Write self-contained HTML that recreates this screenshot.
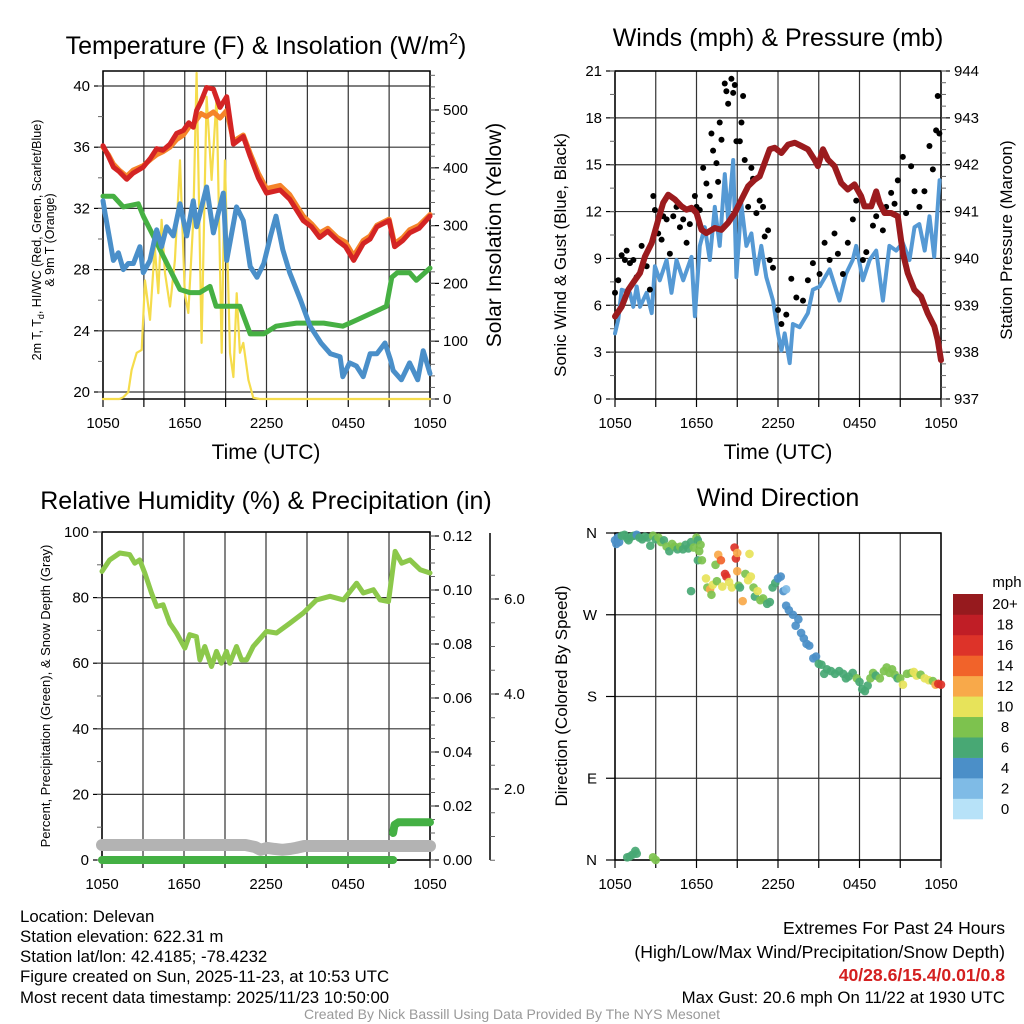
<!DOCTYPE html>
<html><head><meta charset="utf-8"><style>
html,body{margin:0;padding:0;background:#fff}
svg{display:block;font-family:"Liberation Sans",Arial,sans-serif}
</style></head><body>
<svg id="s" width="1024" height="1024" viewBox="0 0 1024 1024" xmlns="http://www.w3.org/2000/svg">
<text x="266" y="54" font-size="25" text-anchor="middle">Temperature (F) &amp; Insolation (W/m<tspan font-size="16" dy="-10">2</tspan><tspan dy="10">)</tspan></text>
<text x="778" y="46" font-size="25" text-anchor="middle">Winds (mph) &amp; Pressure (mb)</text>
<text x="266" y="509" font-size="25" text-anchor="middle">Relative Humidity (%) &amp; Precipitation (in)</text>
<text x="778" y="506" font-size="25" text-anchor="middle">Wind Direction</text>

<text transform="translate(41,240) rotate(-90)" font-size="12.5" text-anchor="middle">2m T, T<tspan font-size="9" dy="3">d</tspan><tspan dy="-3">, HI/WC (Red, Green, Scarlet/Blue)</tspan></text>
<text transform="translate(54,240) rotate(-90)" font-size="12.5" text-anchor="middle">&amp; 9m T (Orange)</text>
<text transform="translate(501,235) rotate(-90)" font-size="21" text-anchor="middle">Solar Insolation (Yellow)</text>
<text x="266" y="459" font-size="21" text-anchor="middle">Time (UTC)</text>
<text transform="translate(566,255) rotate(-90)" font-size="17" text-anchor="middle">Sonic Wind &amp; Gust (Blue, Black)</text>
<text transform="translate(1012,240) rotate(-90)" font-size="17" text-anchor="middle">Station Pressure (Maroon)</text>
<text x="778" y="459" font-size="21" text-anchor="middle">Time (UTC)</text>
<text transform="translate(50,696) rotate(-90)" font-size="13" text-anchor="middle">Percent, Precipitation (Green), &amp; Snow Depth (Gray)</text>
<text transform="translate(567,696) rotate(-90)" font-size="17" text-anchor="middle">Direction (Colored By Speed)</text>

<g font-size="16.8">
<text x="20" y="922">Location: Delevan</text>
<text x="20" y="942">Station elevation: 622.31 m</text>
<text x="20" y="962">Station lat/lon: 42.4185; -78.4232</text>
<text x="20" y="982">Figure created on Sun, 2025-11-23, at 10:53 UTC</text>
<text x="20" y="1003">Most recent data timestamp: 2025/11/23 10:50:00</text>
<text x="1005" y="934" font-size="17.6" text-anchor="end">Extremes For Past 24 Hours</text>
<text x="1005" y="958" font-size="17.6" text-anchor="end">(High/Low/Max Wind/Precipitation/Snow Depth)</text>
<text x="1005" y="981" font-size="17.6" text-anchor="end" fill="#d42020" font-weight="bold">40/28.6/15.4/0.01/0.8</text>
<text x="1005" y="1003" text-anchor="end">Max Gust: 20.6 mph On 11/22 at 1930 UTC</text>
</g>
<text x="512" y="1019" font-size="14" fill="#999" text-anchor="middle">Created By Nick Bassill Using Data Provided By The NYS Mesonet</text>
</svg>
<script>
// ---------- Temperature panel data (hours since 1050 UTC) ----------
const tRed=[0,0.4,0.76,1.2,1.74,2.2,2.96,3.5,3.94,4.4,4.92,5.4,5.9,6.3,6.63,6.87,7.2,7.6,8.1,8.59,9.08,9.57,10.3,10.8,11.4,12.0,13.0,13.7,14.7,15.3,15.9,16.5,17.2,17.8,18.4,19.1,19.6,20.1,21.0,21.4,22.0,22.5,23.2,24.0];
const vRed=[36.1,35.4,34.7,34.4,33.9,34.3,34.7,35.3,35.9,35.8,36.2,36.9,37.1,37.6,37.3,38.4,39.0,39.9,39.8,38.6,39.3,36.2,36.7,35.4,34.0,33.0,33.2,32.6,31.2,30.8,30.1,30.5,29.9,29.5,28.6,29.7,30.0,30.8,31.2,29.5,29.9,30.4,30.7,31.5];
const vOrange=[36.0,35.5,34.9,34.5,34.1,34.5,34.8,35.2,35.5,35.7,36.0,36.5,36.8,37.3,37.5,37.8,38.2,38.0,38.3,37.9,38.4,36.4,36.8,35.6,34.3,33.3,33.5,32.9,31.5,31.0,30.4,30.7,30.1,29.8,28.9,29.9,30.2,30.9,31.3,29.7,30.1,30.6,30.9,31.6];
const tDew=[0,0.76,1.49,2.59,2.96,3.69,4.3,4.92,5.65,6.38,7.1,7.85,8.3,9.3,10.05,10.8,11.8,12.7,14.2,16.2,17.6,18.6,20.8,21.2,21.6,22.5,23.0,24.0];
const vDew=[32.8,32.8,32.1,32.3,31.5,30.2,29.1,28.0,26.7,26.5,26.5,26.9,25.6,25.6,25.6,23.8,23.8,24.3,24.5,24.5,24.3,24.7,25.6,27.5,27.8,27.8,27.3,28.1];
const tWC=[0,0.15,0.51,0.76,1.13,1.49,1.86,2.23,2.71,2.96,3.45,3.94,4.3,4.67,5.16,5.65,6.14,6.63,6.87,7.6,8.1,8.83,9.08,9.8,10.3,10.8,11.3,11.8,12.3,12.7,13.2,13.7,14.5,15.2,16.0,16.7,17.4,17.6,18.1,18.6,19.1,19.6,20.1,20.7,21.1,21.3,21.9,22.5,23.1,23.5,24.0];
const vWC=[32.5,31.7,29.9,28.6,29.1,28.0,28.4,28.4,29.5,27.8,28.6,30.6,29.5,30.8,30.2,32.3,30.2,32.5,30.8,33.4,30.4,33.0,28.6,32.1,31.2,28.2,27.5,28.4,30.2,31.5,29.3,27.8,26.0,24.3,23.2,22.5,22.3,21.0,21.9,21.7,21.0,22.5,22.5,23.2,22.1,21.4,20.8,21.9,20.8,22.7,21.2];
const tSun=[0,1.2,1.49,1.86,2.1,2.47,2.84,3.08,3.45,3.8,4.06,4.3,4.55,4.92,5.28,5.65,6.0,6.26,6.63,6.87,7.24,7.6,7.97,8.34,8.71,8.95,9.32,9.57,9.81,10.05,10.3,10.67,11.03,11.5,24];
const vSun=[0,0,3,12,50,80,85,205,137,263,183,310,218,160,240,413,183,149,310,564,97,523,379,523,80,413,80,38,183,80,97,33,2,0,0];
const tempTicks=[20,24,28,32,36,40];
const sunTicks=[0,100,200,300,400,500];
const timeLabels=["1050","1650","2250","0450","1050"];
// ---------- Winds panel data ----------
const tWind=[0,0.24,0.49,1.1,1.35,1.6,1.84,2.33,2.7,2.94,3.3,3.8,4.16,4.53,5.02,5.63,5.88,6.24,6.61,6.98,7.35,7.71,8.08,8.33,8.7,8.94,9.3,9.67,10.04,10.41,10.77,11.14,11.63,12.0,12.25,12.49,12.86,13.1,13.59,14.2,14.57,15.06,15.8,16.53,17.0,17.5,17.76,18.25,18.74,19.23,19.72,20.2,20.7,21.19,21.68,22.05,22.4,22.8,23.15,23.5,23.9];
const vWind=[4.2,5.1,7.0,6.8,5.9,7.2,5.9,6.8,5.5,8.5,7.6,8.9,6.8,8.9,7.6,9.1,5.3,9.8,11.0,8.9,12.3,9.8,14.4,11.5,15.3,7.8,12.5,9.8,10.6,8.0,9.8,7.8,6.3,4.2,3.1,4.2,2.3,4.8,4.6,5.5,7.0,7.2,8.3,6.3,8.0,8.9,9.8,7.6,8.9,9.5,6.3,9.8,9.5,10.0,8.9,11.0,11.2,9.5,11.7,9.1,14.0];
const tGust=[0,0.24,0.49,0.73,0.86,1.1,1.35,1.59,1.96,2.33,2.57,2.82,2.94,3.18,3.43,3.55,3.8,4.04,4.29,4.53,4.78,5.02,5.27,5.51,5.88,6.0,6.24,6.49,6.73,6.98,7.1,7.22,7.47,7.59,7.71,7.84,8.08,8.2,8.33,8.57,8.7,8.82,8.94,9.19,9.31,9.43,9.55,9.8,10.04,10.16,10.41,10.65,10.9,11.02,11.27,11.39,11.63,12.0,12.25,12.61,12.98,13.35,13.84,14.2,14.57,15.06,15.43,15.8,16.16,16.41,16.78,17.14,17.51,17.76,18.25,18.5,18.99,19.23,19.72,19.96,20.33,20.58,20.82,21.19,21.43,21.8,22.05,22.41,22.78,23.15,23.4,23.64,23.76,23.88];
const vGust=[6.8,7.6,9.2,8.9,9.5,8.7,8.9,7.8,9.8,8.5,7.0,13.0,12.1,10.6,10.2,11.7,11.5,9.3,11.7,12.3,11.0,11.5,10.0,11.2,13.0,12.3,12.1,14.8,13.8,13.0,17.0,15.9,15.1,13.9,17.7,16.6,20.2,19.7,18.9,20.5,19.6,20.1,16.5,16.5,17.7,19.4,15.3,12.3,14.8,14.1,11.9,12.7,12.3,10.4,10.8,8.9,8.4,5.7,4.8,5.4,7.7,6.5,6.3,7.6,8.7,8.0,10.0,8.9,10.6,9.3,8.0,10.0,11.5,12.7,8.9,9.4,11.1,11.7,10.8,12.3,13.2,12.5,14.0,15.5,11.9,14.9,13.3,12.3,13.3,16.2,14.7,17.2,19.4,17.0];
const tPres=[0,0.49,0.98,1.47,1.84,2.2,2.7,3.19,3.55,3.92,4.41,4.9,5.27,5.63,6.0,6.37,6.73,7.35,7.84,8.33,8.82,9.31,9.8,10.29,10.65,11.02,11.39,11.76,12.25,12.74,13.23,13.72,14.2,14.69,14.94,15.31,15.67,16.16,16.65,17.14,17.63,18.12,18.37,18.86,19.23,19.47,19.84,20.33,20.82,21.19,21.55,22.04,22.53,23.02,23.51,23.76,24.0];
const vPres=[938.76,938.97,939.33,939.54,939.69,940.04,940.33,940.83,941.19,941.36,941.26,941.11,941.04,941.08,940.97,940.61,940.54,940.65,940.61,940.76,940.97,941.26,941.54,941.68,941.75,942.04,942.33,942.36,942.25,942.43,942.47,942.40,942.33,942.11,941.97,942.33,942.11,941.97,941.61,941.47,941.58,941.33,941.11,941.11,941.43,941.19,940.97,940.97,940.90,940.12,939.69,939.33,939.19,938.83,938.55,938.26,937.83];
const windTicks=[0,3,6,9,12,15,18,21];
const presTicks=[937,938,939,940,941,942,943,944];
// ---------- Humidity panel data ----------
const tRH=[0,0.56,1.3,2.03,2.4,2.76,3.13,3.62,4.0,4.47,4.96,5.45,6.06,6.42,6.91,7.16,7.52,8.01,8.38,8.74,9.11,9.35,9.84,10.21,10.58,11.06,12.04,12.77,13.75,14.73,15.7,16.68,17.66,18.63,19.12,19.86,20.35,20.96,21.45,21.93,22.54,23.28,24.0];
const vRH=[88.0,91.5,93.6,93.1,90.5,91.5,87.5,81.4,77.3,77.8,72.2,69.2,64.6,68.7,68.1,61.0,65.1,59.0,63.6,60.0,63.6,60.0,65.1,61.0,61.0,65.1,69.7,69.2,72.2,75.3,79.3,80.4,79.3,84.4,81.4,82.4,79.3,78.8,94.1,90.5,91.5,88.5,87.5];
const tPrecipA=[0,21.3];
const vPrecipA=[0,0];
const tPrecipB=[21.3,21.4,21.7,24];
const vPrecipB=[0.01,0.013,0.014,0.014];
const tSnow=[0,9.5,10.5,11.2,11.6,12.1,12.6,13.2,13.8,14.2,14.8,24];
const vSnow=[0.82,0.82,0.82,0.78,0.72,0.76,0.74,0.72,0.74,0.76,0.8,0.8];
const rhTicks=[0,20,40,60,80,100];
const precipTicks=["0.00","0.02","0.04","0.06","0.08","0.10","0.12"];
const snowTicks=[2,4,6];
// ---------- Wind direction data ----------
const tDir=[0.0,0.1,0.2,0.3,0.5,0.7,0.9,1.0,1.2,1.4,1.6,1.8,2.0,2.2,2.4,2.6,2.8,3.0,3.2,3.4,3.6,3.8,4.0,4.2,4.4,4.6,4.8,5.0,5.2,5.4,5.6,5.8,6.0,6.1,6.2,6.3,6.1,5.6,6.4,6.7,6.8,7.0,7.1,7.2,7.4,7.5,7.6,7.8,7.9,8.1,8.2,8.4,8.6,8.8,8.9,9.0,9.0,9.1,9.2,9.4,9.6,9.8,9.9,10.0,10.2,10.3,10.5,10.7,10.9,11.2,11.4,11.6,11.8,12.0,12.2,12.4,12.6,12.6,12.8,13.1,13.3,13.5,13.7,13.9,14.1,14.3,14.6,14.8,15.0,15.2,15.4,15.6,15.9,16.2,16.5,16.8,17.0,17.2,17.5,17.8,18.0,18.2,18.4,18.6,18.8,19.0,19.2,19.5,19.8,20.0,20.2,20.4,20.6,20.8,21.0,21.2,21.5,21.8,22.0,22.2,22.5,22.8,23.1,23.4,23.6,23.8,24.0,0.9,1.1,1.3,1.5,1.6,2.8,3.0];
const vDir=[352,348,355,350,357,358,354,352,356,357,358,355,353,356,355,346,357,353,355,350,352,345,340,348,345,342,345,342,347,343,350,344,355,352,340,347,330,296,330,310,300,298,292,303,325,307,336,330,301,315,312,306,300,344,332,338,318,302,300,285,315,308,337,312,300,290,296,286,288,282,284,300,305,310,312,296,298,280,275,270,258,265,250,244,238,236,222,224,216,215,205,210,208,205,208,205,200,202,206,200,196,188,186,192,200,206,203,200,208,212,206,210,204,200,200,193,205,206,207,203,204,200,198,197,193,194,193,3,4,6,10,7,3,0];
const vSpd=[4,4,4,5,6,6,6,7,6,6,5,6,6,6,6,6,8,7,8,8,7,8,6,8,8,7,8,7,6,7,6,8,8,7,8,9,6,6,8,10,9,12,9,10,9,8,13,14,10,16,16,10,11,16,16,13,12,8,7,12,9,10,10,10,8,6,10,9,8,6,6,7,6,4,4,4,2,4,4,4,4,4,4,4,4,4,4,4,6,6,6,6,7,6,6,7,6,7,7,8,7,6,6,7,8,9,7,8,8,8,9,9,9,7,9,10,8,9,10,10,9,10,10,9,12,16,16,6,6,6,6,6,8,8];
const dirLabels=["N","E","S","W","N"];
const cbColors=["#b7e2f8","#7fbbe6","#4b8fc8","#48a874","#7dc24e","#e7e35a","#f8a94a","#f1632a","#dd3329","#c01e26","#961a1e"];
const cbLabels=["0","2","4","6","8","10","12","14","16","18","20+"];

const S=document.getElementById('s');
const NS='http://www.w3.org/2000/svg';
function mk(tag,attrs,parent){const e=document.createElementNS(NS,tag);for(const k in attrs)e.setAttribute(k,attrs[k]);(parent||S).appendChild(e);return e;}
function lin(d0,d1,r0,r1){return v=>r0+(v-d0)/(d1-d0)*(r1-r0);}
function line(ts,vs,sx,sy,stroke,w,name){
  const p=ts.map((t,i)=>sx(t).toFixed(1)+','+sy(vs[i]).toFixed(1)).join(' ');
  const el=mk('polyline',{points:p,fill:'none',stroke:stroke,'stroke-width':w,'stroke-linejoin':'round','stroke-linecap':'round'});
  
  
  return el;
}
function frame(x0,x1,y0,y1,name){
  const g=mk('g',{});
  
  
  return g;
}
function grid(g,x0,x1,y0,y1,hs){
  const sx=lin(0,24,x0,x1);
  for(let h=0;h<=24;h+=3){const x=sx(h);mk('line',{x1:x,x2:x,y1:y0,y2:y1,stroke:'#333','stroke-width':1.2},g);mk('line',{x1:x,x2:x,y1:y1,y2:y1+8,stroke:'#000','stroke-width':1.2},g);}
  hs.forEach(y=>mk('line',{x1:x0,x2:x1,y1:y,y2:y,stroke:'#333','stroke-width':1.2},g));
  mk('rect',{x:x0,y:y0,width:x1-x0,height:y1-y0,fill:'none',stroke:'#000','stroke-width':1.5},g);
  timeLabels.forEach((l,i)=>{const t=mk('text',{x:sx(i*6),y:y1+29,'font-size':15,'text-anchor':'middle'},g);t.textContent=l;
    
    });
  return sx;
}
function yticks(g,ticks,sy,x,side,fmt,minorStep,lo,hi,labOff){
  const dir=side==='L'?-1:1;
  ticks.forEach(v=>{const y=sy(v);mk('line',{x1:x,x2:x+dir*9,y1:y,y2:y,stroke:'#000','stroke-width':1.2},g);
    const t=mk('text',{x:x+dir*(labOff||13),y:y+5,'font-size':15,'text-anchor':side==='L'?'end':'start'},g);t.textContent=fmt(v);
    
    });
  if(minorStep){for(let v=lo;v<=hi+1e-9;v+=minorStep){const y=sy(v);mk('line',{x1:x,x2:x+dir*5,y1:y,y2:y,stroke:'#666','stroke-width':1},g);}}
}

// ===== Panel 1: Temperature =====
{const x0=103,x1=430,y0=71,y1=399;
 const g=frame(x0,x1,y0,y1,'temperature-panel');
 const sy=lin(20,40,392,86), sy2=lin(0,500,399,110);
 const sx=grid(g,x0,x1,y0,y1,tempTicks.map(sy));
 yticks(g,tempTicks,sy,x0,'L',v=>v,2,20,40);
 yticks(g,sunTicks,sy2,x1,'R',v=>v,20,0,560);
 line(tSun,vSun,sx,sy2,'#f5dc4c',2.2,'solar-insolation-line');
 line(tDew,vDew,sx,sy,'#46b043',5,'dewpoint-line');
 line(tWC,vWC,sx,sy,'#4a8fc9',5,'wind-chill-line');
 line(tRed,vOrange,sx,sy,'#f5842a',5,'temp-9m-line');
 line(tRed,vRed,sx,sy,'#d42424',5,'temp-2m-line');
}
// ===== Panel 2: Winds =====
{const x0=615,x1=941,y0=71,y1=399;
 const g=frame(x0,x1,y0,y1,'winds-panel');
 const sy=lin(0,21,399,71), sy2=lin(937,944,399,71);
 const sx=grid(g,x0,x1,y0,y1,windTicks.map(sy));
 yticks(g,windTicks,sy,x0,'L',v=>v,1.5,0,21);
 yticks(g,presTicks,sy2,x1,'R',v=>v,0.25,937,944);
 line(tWind,vWind,sx,sy,'#5599d4',4,'wind-speed-line');
 tGust.forEach((t,i)=>{const c=mk('circle',{cx:sx(t),cy:sy(vGust[i]),r:3,fill:'#000'});
   
   });
 line(tPres,vPres,sx,sy2,'#9b1b1e',6,'pressure-line');
}
// ===== Panel 3: Humidity =====
{const x0=102,x1=430,y0=532,y1=860;
 const g=frame(x0,x1,y0,y1,'humidity-panel');
 const sy=lin(0,100,860,532), sy2=lin(0,0.12,860,536), sy3=lin(0,2,884,789);
 const sx=grid(g,x0,x1,y0,y1,rhTicks.map(sy));
 yticks(g,rhTicks,sy,x0,'L',v=>v,10,0,100);
 yticks(g,precipTicks.map(Number),sy2,x1,'R',v=>v.toFixed(2),0.005,0,0.12);
 mk('line',{x1:490,x2:490,y1:533,y2:860,stroke:'#000','stroke-width':1.5},g);
 yticks(g,snowTicks,sy3,490,'R',v=>v.toFixed(1),0.5,0.5,6.5,14);
 line(tSnow,vSnow,sx,sy3,'#b3b3b3',12,'snow-depth-line');
 line(tPrecipA,vPrecipA,sx,sy2,'#44b044',8,'precip-line-zero');
 line(tPrecipB,vPrecipB,sx,sy2,'#44b044',8,'precip-line');
 line(tRH,vRH,sx,sy,'#8cc84b',5,'relative-humidity-line');
}
// ===== Panel 4: Wind direction =====
{const x0=615,x1=941,y0=533,y1=860;
 const g=frame(x0,x1,y0,y1,'wind-direction-panel');
 const sy=lin(0,360,860,533);
 const sx=grid(g,x0,x1,y0,y1,[0,90,180,270,360].map(sy));
 yticks(g,[0,90,180,270,360],sy,x0,'L',v=>dirLabels[v/90],0,0,0,18);
 tDir.forEach((t,i)=>{const b=Math.min(10,Math.floor(vSpd[i]/2));
   const c=mk('circle',{cx:sx(t),cy:sy(vDir[i]),r:4.3,fill:cbColors[b],'fill-opacity':0.92});
   
   });
 const cb=mk('g',{});
 
 
 const bh=(819-594)/11;
 cbColors.forEach((c,i)=>{const y=819-(i+1)*bh;mk('rect',{x:953,y:y,width:30,height:bh+0.3,fill:c},cb);
   const t=mk('text',{x:1005,y:y+bh/2+5,'font-size':15,'text-anchor':'middle'},cb);t.textContent=cbLabels[i];
   
   });
 const mph=mk('text',{x:1007,y:587,'font-size':15,'text-anchor':'middle'},cb);mph.textContent='mph';
 
 
}
</script>
</body></html>
